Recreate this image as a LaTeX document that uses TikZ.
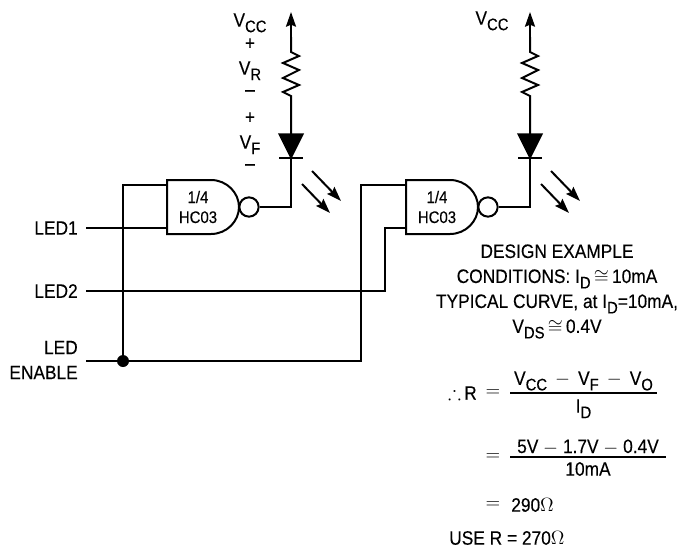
\documentclass[tikz,border=0pt]{standalone}
\usepackage{amsmath}
\usepackage{amssymb}
\usepackage{fontspec}
\setmainfont[FakeStretch=0.89,FakeBold=0.25]{Liberation Sans}
\usetikzlibrary{arrows.meta,positioning,calc}

\newcommand{\subt}[1]{\smash{\raisebox{-0.28em}{\fontsize{12.5}{14}\selectfont #1}}}

\tikzset{
    wire/.style={line width=1.5pt},
    lbl/.style={font=\fontsize{14.6}{18.75}\selectfont, inner sep=0pt, align=center},
    inlbl/.style={lbl, anchor=east, inner sep=6pt, align=right},
    tip/.style={-{Stealth[length=11pt,width=7.5pt,inset=1.5pt]}},
    hcgate/.pic={
        % Gate body and bubble
        \draw[wire, fill=white] (0,-27) -- (44,-27) .. controls (60,-27) and (72,-14) .. (72,0)
            .. controls (72,14) and (60,27) .. (44,27) -- (0,27) -- cycle;
        \node[wire, draw, circle, minimum size=14.5pt, inner sep=0pt] (-bub) at (82,0) {};
        \node[lbl, font=\fontsize{12.6}{15}\selectfont] (-txt) at (31,0) {1/4\\HC03};
        \coordinate (-ina) at (0,-22);
        \coordinate (-inb) at (0,21);
        % Output, LED and resistor
        \coordinate (-tip) at (124,-195);
        \draw[wire, line join=miter] (-bub.east) -- (124,0) -- (124,-49);
        \draw[fill=black, line width=1pt] (112,-73) -- (136,-73) -- (124,-49) -- cycle;
        \draw[wire] (112,-49) -- (136,-49);
        \draw[wire, line join=miter] (124,-73) -- (124,-111) -- (116,-115) -- (132,-122)
            -- (116,-129) -- (132,-137) -- (116,-144) -- (132,-151) -- (124,-155) -- (124,-170);
        \draw[wire, tip] (124,-160) -- (-tip);
        % Light
        \draw[wire, tip] (145,-36) -- (174,-6);
        \draw[wire, tip] (135,-23) -- (163,6);
    }
}

\begin{document}
\begin{tikzpicture}[x=0.75pt, y=-0.75pt]
    \useasboundingbox (0,0) rectangle (688,550);

    % Gates
    \pic (gone) at (167,207) {hcgate};
    \pic (gtwo) at (406,207) {hcgate};

    % Inputs
    \node[inlbl] (ledone) at (86,228) {LED1};
    \node[inlbl] (ledtwo) at (86,291) {LED2};
    \node[inlbl, align=right] (ledena) at (86,360) {LED\\ENABLE};
    \coordinate (junc) at (123,361);

    % Wires
    \draw[wire] (ledone.east) -- (gone-inb);
    \draw[wire] (ledtwo.east) -- (385,291) -- (385,228) -- (gtwo-inb);
    \draw[wire] (86,361) -- (361,361) -- (361,185) -- (gtwo-ina);
    \draw[wire] (junc) -- (123,185) -- (gone-ina);
    \fill (junc) circle (4.5pt);

    % Voltages
    \node[lbl] (vcc) at (250,20) {V\subt{CC}};
    \node[lbl] (vrp) at (250,44) {+};
    \node[lbl] (vr) at (250,68) {V\subt{R}};
    \node[lbl] (vrm) at (250,93) {--};
    \node[lbl] (vfp) at (250,118) {+};
    \node[lbl] (vf) at (250,142) {V\subt{F}};
    \node[lbl] (vfm) at (250,167) {--};
    \node[lbl] (vcctwo) at (492,18) {V\subt{CC}};

    % Design example
    \node[lbl] (cond) at (557,289) {DESIGN EXAMPLE\\
        CONDITIONS: I\subt{D}\,$\cong$\,10mA\\
        TYPICAL CURVE, at I\subt{D}=10mA,\\
        V\subt{DS}\,$\cong$\,0.4V};

    \node[lbl, anchor=east] (there) at (477,393) {$\therefore$\,R};
    \node[lbl] (eqa) at (493,393) {$=$};
    \node[lbl] (numa) at (583.5,379) {V\subt{CC} \,$-$\, V\subt{F} \,$-$\, V\subt{O}};
    \node[lbl] (dena) at (583.5,406) {I\subt{D}};
    \coordinate (fraca) at (510,393);
    \draw[line width=0.9pt] (fraca) -- (657,393);

    \node[lbl] (eqb) at (493,457) {$=$};
    \node[lbl] (numb) at (588,447) {5V $-$ 1.7V $-$ 0.4V};
    \node[lbl] (denb) at (588,469) {10mA};
    \coordinate (fracb) at (510,457);
    \draw[line width=0.9pt] (fracb) -- (666,457);

    \node[lbl] (eqc) at (493,505) {$=$};
    \node[lbl, anchor=west] (res) at (511,505) {290$\Omega$};
    \node[lbl, anchor=west] (use) at (449,538) {USE R = 270$\Omega$};
\end{tikzpicture}
\end{document}
